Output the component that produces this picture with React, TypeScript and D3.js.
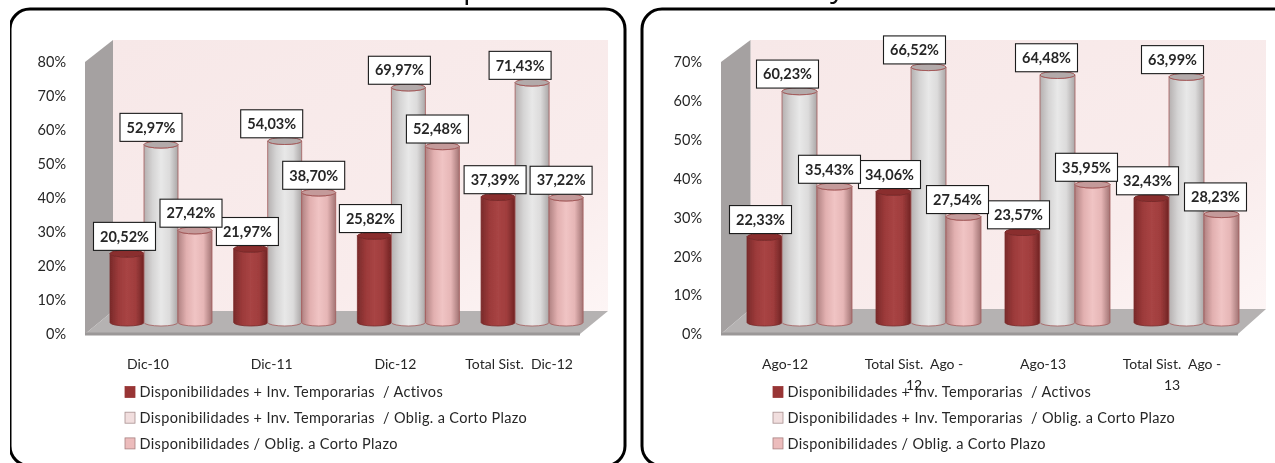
import React from "react";
import * as d3 from "d3";

const seriesNames = [
  "Disponibilidades + Inv. Temporarias  / Activos",
  "Disponibilidades + Inv. Temporarias  / Oblig. a Corto Plazo",
  "Disponibilidades / Oblig. a Corto Plazo",
];
const leftCategories = ["Dic-10", "Dic-11", "Dic-12", "Total Sist.  Dic-12"];
const leftActivos = [20.52, 21.97, 25.82, 37.39];
const leftOblig = [52.97, 54.03, 69.97, 71.43];
const leftDisp = [27.42, 38.7, 52.48, 37.22];
const leftTicks = [0, 10, 20, 30, 40, 50, 60, 70, 80];

const rightCategories = ["Ago-12", "Total Sist.  Ago -\n12", "Ago-13", "Total Sist.  Ago -\n13"];
const rightActivos = [22.33, 34.06, 23.57, 32.43];
const rightOblig = [60.23, 66.52, 64.48, 63.99];
const rightDisp = [35.43, 27.54, 35.95, 28.23];
const rightTicks = [0, 10, 20, 30, 40, 50, 60, 70];

// hand placement of the callouts, per series then per category
const leftNudges = [[-2.5, -3.3, -4, -3], [-10, -13, -9, -12], [-4, -5, -5, -5]];
const rightNudges = [[-4, -4, -4, -4], [-12, -14, -11, -14], [-5, -6, -6, -6]];

const FONT = "Lato, 'Open Sans', sans-serif";
const TEXT = "#262626";

const skins = [
  { id: "red", stops: ["#7a2a2a", "#9c3a3a", "#a84444", "#a03d3d", "#702323"], top: "#8a2e2e", edge: "#7a2a2a" },
  { id: "grey", stops: ["#b5b0b0", "#d5d4d4", "#e8e8e8", "#dcdbdb", "#aaa6a6"], top: "#b3aaaa", edge: "#a35a5a" },
  { id: "pink", stops: ["#b08282", "#e2b0b0", "#f0c4c4", "#e6b6b6", "#a27474"], top: "#c49a9a", edge: "#a35a5a" },
];
const swatches = [
  { fill: "#983535", stroke: "#983535" },
  { fill: "#f1dede", stroke: "#a89090" },
  { fill: "#ecbcbc", stroke: "#a88080" },
];

type ChartProps = {
  categories: string[];
  values: number[][];
  ticks: number[];
  nudges: number[][];
  wall: [number, number];
  sideX: number;
  floorFrontRight: number;
  floorBack: number;
  groupStart: number;
  groupStep: number;
  groupWidth: number;
  barWidth: number;
  labelCentreDx: number;
  legendX: number;
};

const pct = (v: number) => v.toFixed(2).replace(".", ",") + "%";

function Chart(p: ChartProps) {
  const maxTick = d3.max(p.ticks) as number;
  const y = d3.scaleLinear().domain([0, maxTick]).range([334, 62]);
  // bars stand on the floor, set back from the axis plane
  const barY = d3.scaleLinear().domain([0, maxTick]).range([322.5, 322.5 - 0.988 * 272]);
  const x0 = d3.scaleBand<string>().domain(p.categories).range([p.groupStart, p.groupStart + p.groupStep * p.categories.length]);
  const x1 = d3.scaleBand<number>().domain([0, 1, 2]).range([0, p.groupWidth]);
  const rx = p.barWidth / 2;
  const ry = 3.5;
  const gap = 3.2;
  const [wl, wr] = p.wall;
  return (
    <g>
      <polygon points={`${wl},40 ${wr},40 ${wr},${p.floorBack} ${wl},${p.floorBack}`} fill={`url(#wall)`} />
      <polygon points={`${p.sideX},${y.range()[1]} ${wl},40 ${wl},${p.floorBack} ${p.sideX},334`} fill="#a5a1a1" />
      <polygon points={`${p.sideX},334 ${wl},${p.floorBack} ${wr},${p.floorBack} ${p.floorFrontRight},334`} fill="#b5b2b2" />
      <rect x={p.sideX} y={332.5} width={p.floorFrontRight - p.sideX} height={3} fill="#9b9898" />
      {p.ticks.map((t) => (
        <text key={t} x={p.sideX - 19} y={y(t)} dy="0.36em" textAnchor="end" fontSize={14.5} fontFamily={FONT} fill={TEXT}>
          {t}%
        </text>
      ))}
      {p.categories.map((c, ci) =>
        p.values.map((vals, si) => {
          const left = (x0(c) as number) + (x1(si) as number);
          const right = left + p.barWidth;
          const top = barY(vals[ci]);
          const base = barY(0);
          const sk = skins[si];
          return (
            <g key={c + si}>
              <path
                d={`M${left},${top}L${left},${base}A${rx},${ry} 0 0 0 ${right},${base}L${right},${top}A${rx},${ry} 0 0 1 ${left},${top}Z`}
                fill={`url(#${sk.id})`}
                stroke={sk.edge}
                strokeWidth={0.8}
              />
              <ellipse cx={left + rx} cy={top} rx={rx} ry={ry} fill={sk.top} stroke={sk.edge} strokeWidth={1} />
            </g>
          );
        })
      )}
      {p.categories.map((c, ci) => {
        const cx = (x0(c) as number) + p.labelCentreDx;
        return (
          <text key={c} textAnchor="middle" fontSize={14} fontFamily={FONT} fill={TEXT} style={{ whiteSpace: "pre" }}>
            {c.split("\n").map((line, li) => (
              <tspan key={li} x={cx} y={369 + li * 21}>
                {line}
              </tspan>
            ))}
          </text>
        );
      })}
      {seriesNames.map((s, i) => (
        <g key={s}>
          <rect x={p.legendX} y={386.5 + i * 25.7} width={10} height={11} fill={swatches[i].fill} stroke={swatches[i].stroke} strokeWidth={0.8} />
          <text x={p.legendX + 14.5} y={392 + i * 25.7} dy="0.36em" fontSize={14.5} letterSpacing={0.35} fontFamily={FONT} fill={TEXT} style={{ whiteSpace: "pre" }}>
            {s}
          </text>
        </g>
      ))}
      {p.values.map((vals, si) =>
        p.categories.map((c, ci) => {
          const cx = (x0(c) as number) + (x1(si) as number) + p.barWidth / 2 + p.nudges[si][ci];
          const bottom = barY(vals[ci]) - gap;
          return (
            <g key={c + si}>
              <rect x={cx - 31} y={bottom - 28} width={62} height={28} fill="#fff" stroke="#1a1a1a" strokeWidth={1.1} />
              <text x={cx} y={bottom - 14} dy="0.36em" textAnchor="middle" fontSize={14.5} fontWeight={700} fontFamily={FONT} fill={TEXT}>
                {pct(vals[ci])}
              </text>
            </g>
          );
        })
      )}
    </g>
  );
}

export default function App() {
  return (
    <svg width={1275} height={463} style={{ position: "absolute", left: 0, top: 0, display: "block", background: "#fff" }}>
      <defs>
        {skins.map((s) => (
          <linearGradient key={s.id} id={s.id} x1="0" x2="1" y1="0" y2="0">
            {s.stops.map((c, i) => (
              <stop key={i} offset={i / (s.stops.length - 1)} stopColor={c} />
            ))}
          </linearGradient>
        ))}
        <linearGradient id="wall" x1="0" x2="1" y1="0" y2="1">
          <stop offset="0" stopColor="#f7e8e8" />
          <stop offset="0.7" stopColor="#f9ecec" />
          <stop offset="1" stopColor="#fdf5f5" />
        </linearGradient>
        <filter id="soft" x="0" y="0" width="100%" height="100%">
          <feGaussianBlur stdDeviation="0.35" />
        </filter>
      </defs>
      <g filter="url(#soft)">
        <text x={463} y={-2} fontSize={30} fontFamily="'Open Sans', sans-serif" fill="#111">
          p
        </text>
        <text x={830} y={-3} fontSize={30} fontFamily="'Open Sans', sans-serif" fill="#111">
          y
        </text>
        <rect x={10} y={9} width={615} height={457} rx={20} fill="#fff" stroke="#000" strokeWidth={3} />
        <rect x={642} y={9} width={700} height={457} rx={20} fill="#fff" stroke="#000" strokeWidth={3} />
        <Chart
          categories={leftCategories}
          values={[leftActivos, leftOblig, leftDisp]}
          ticks={leftTicks}
          nudges={leftNudges}
          wall={[113, 608]}
          sideX={85}
          floorFrontRight={580}
          floorBack={311}
          groupStart={110}
          groupStep={123.7}
          groupWidth={102}
          barWidth={34}
          labelCentreDx={38}
          legendX={125}
        />
        <Chart
          categories={rightCategories}
          values={[rightActivos, rightOblig, rightDisp]}
          ticks={rightTicks}
          nudges={rightNudges}
          wall={[750.5, 1266]}
          sideX={721}
          floorFrontRight={1238}
          floorBack={309}
          groupStart={747}
          groupStep={129}
          groupWidth={105}
          barWidth={35}
          labelCentreDx={38}
          legendX={773}
        />
      </g>
    </svg>
  );
}
